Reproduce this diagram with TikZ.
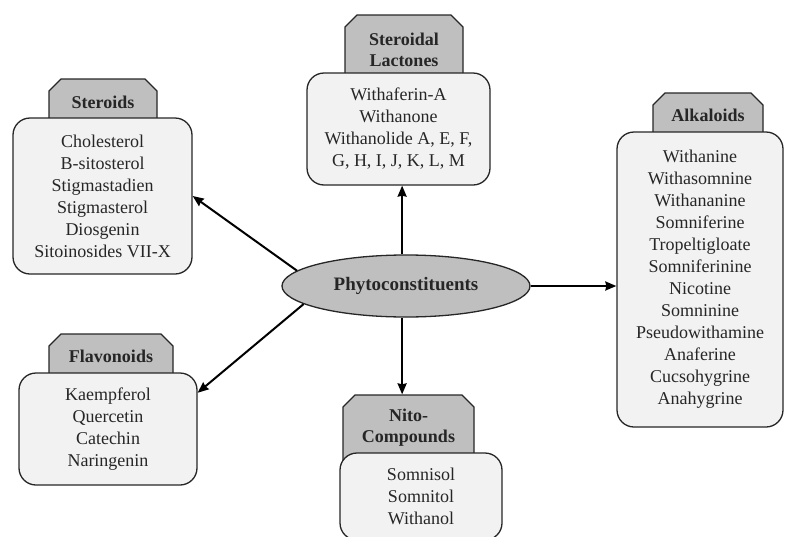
\documentclass[tikz,border=0pt]{standalone}
\usepackage{fontspec}
\setmainfont{Liberation Serif}
\usetikzlibrary{shapes.misc,shapes.geometric,arrows.meta}
\definecolor{tabgray}{HTML}{BFBFBF}
\definecolor{boxgray}{HTML}{F2F2F2}
\definecolor{ink}{HTML}{262626}
\tikzset{
  tabbox/.style={chamfered rectangle, chamfered rectangle corners={north west,north east},
    chamfered rectangle xsep=6pt, chamfered rectangle ysep=6pt,
    draw=ink, line width=1.3pt, fill=tabgray, inner sep=0pt, align=center,
    text=ink, font=\fontsize{18}{21}\selectfont\bfseries},
  listbox/.style={rectangle, rounded corners=17pt, draw=ink, line width=1.3pt, fill=boxgray,
    inner sep=0pt, align=center, text=ink, font=\fontsize{18}{22}\selectfont,
    execute at begin node={\rule{0pt}{25pt}}},
  hub/.style={ellipse, draw=ink, line width=1.3pt, fill=tabgray, inner sep=0pt,
    minimum width=248pt, minimum height=62pt, text=ink, font=\fontsize{19}{22}\selectfont\bfseries},
  arr/.style={line width=2pt, draw=black, -{Stealth[length=11pt,width=9pt,inset=1pt]}}
}
\begin{document}
\begin{tikzpicture}[x=1pt,y=-1pt]
\useasboundingbox (0,0) rectangle (785,536);
% Steroids
\node[tabbox, minimum width=108pt, minimum height=46pt] (stTab) at (103,102) {Steroids};
\node[listbox, minimum width=179pt, minimum height=156pt] (stBox) at (102.5,196)
  {Cholesterol\\B-sitosterol\\Stigmastadien\\Stigmasterol\\Diosgenin\\Sitoinosides VII-X};
% Steroidal Lactones
\node[tabbox, minimum width=118pt, minimum height=70pt] (laTab) at (404,50) {Steroidal\\Lactones};
\node[listbox, minimum width=183pt, minimum height=112pt] (laBox) at (398.5,129)
  {Withaferin-A\\Withanone\\Withanolide A, E, F,\\G, H, I, J, K, L, M};
% Alkaloids
\node[tabbox, minimum width=110pt, minimum height=44pt] (alTab) at (708,115) {Alkaloids};
\node[listbox, minimum width=166pt, minimum height=295pt] (alBox) at (700,279.5)
  {Withanine\\Withasomnine\\Withananine\\Somniferine\\Tropeltigloate\\Somniferinine\\Nicotine\\Somninine\\Pseudowithamine\\Anaferine\\Cucsohygrine\\Anahygrine};
% Flavonoids
\node[tabbox, minimum width=124pt, minimum height=44pt] (flTab) at (111,356) {Flavonoids};
\node[listbox, minimum width=178pt, minimum height=112pt] (flBox) at (108,429)
  {Kaempferol\\Quercetin\\Catechin\\Naringenin};
% Nito-Compounds
\node[tabbox, minimum width=131pt, minimum height=66pt] (niTab) at (408.5,428) {Nito-\\Compounds};
\node[listbox, minimum width=162pt, minimum height=87pt, execute at begin node={}] (niBox) at (421,496.5)
  {Somnisol\\Somnitol\\Withanol};
% Hub
\node[hub] (hub) at (406,286) {Phytoconstituents};
% Arrows
\draw[arr] (hub.172) -- (stBox.east);
\draw[arr] (hub.190) -- (flBox.22);
\draw[arr] (hub.97) -- (hub.97 |- laBox.south);
\draw[arr] (hub.263) -- (hub.263 |- niTab.north);
\draw[arr] (hub.east) -- (hub.east -| alBox.west);
\end{tikzpicture}
\end{document}
